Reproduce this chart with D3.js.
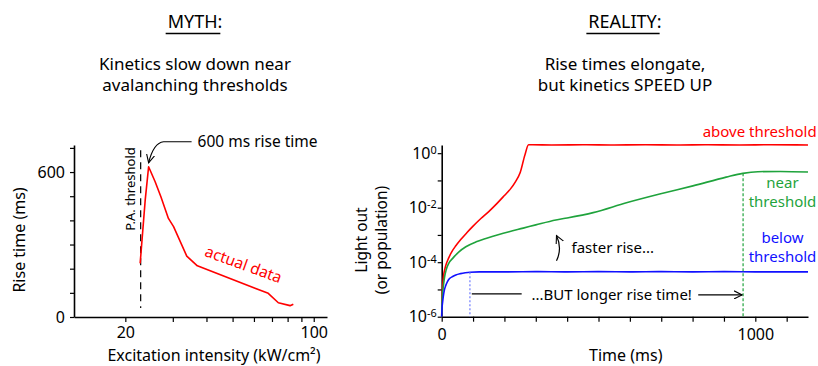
<!DOCTYPE html>
<html>
<head>
<meta charset="utf-8">
<script src="https://cdn.jsdelivr.net/npm/d3@7"></script>
<style>
  body { margin: 0; background: #fff; }
  svg { display: block; font-family: 'Noto Sans', sans-serif; }
</style>
</head>
<body>
<script>
const W = 818
const H = 366

// left panel (myth): rise time vs excitation intensity
const intensity = [22.7, 23.7, 24.4, 25.8, 27.1, 28.9, 30.2, 33.8, 37.0, 67.8, 73.9, 81.7, 84.0]
const riseTime = [222, 484, 622, 560, 498, 408, 374, 252, 212, 98, 59, 47, 53]
const paThreshold = 22.8
const riseTicks = [0, 100, 200, 300, 400, 500, 600, 700]
const riseLabels = [0, 600]
const intensityTicks = [20, 30, 40, 50, 60, 70, 80, 90, 100]
const intensityLabels = [20, 100]

// right panel (reality): light out vs time, three excitation levels
const aboveTime = [0, 1, 3, 6, 10, 15, 22, 32, 45, 60, 80, 100, 125, 150, 175, 200, 220, 235, 250, 265, 277, 290, 350, 450, 550, 650, 750, 850, 950, 1050, 1168]
const aboveLight = [1e-6, 4.0e-6, 1.26e-5, 3.16e-5, 5.6e-5, 8.9e-5, 1.41e-4, 2.4e-4, 4.0e-4, 6.6e-4, 1.2e-3, 2.1e-3, 4.0e-3, 7.2e-3, 1.38e-2, 2.8e-2, 5.0e-2, 8.9e-2, 0.19, 0.83, 2.04, 2.04, 2.0, 2.04, 2.0, 2.04, 2.0, 2.04, 2.0, 2.04, 2.0]
const nearTime = [0, 1, 3, 5, 9, 14, 22, 35, 55, 77, 110, 141, 180, 215, 260, 300, 364, 400, 483, 589, 695, 801, 907, 960, 1008, 1080, 1168]
const nearLight = [1e-6, 3.2e-6, 7.9e-6, 1.26e-5, 2.8e-5, 5.1e-5, 8.9e-5, 1.38e-4, 2.4e-4, 3.7e-4, 5.6e-4, 7.4e-4, 1.02e-3, 1.32e-3, 1.78e-3, 2.34e-3, 3.55e-3, 4.2e-3, 6.6e-3, 1.51e-2, 3.16e-2, 6.3e-2, 0.132, 0.182, 0.209, 0.214, 0.204]
const belowTime = [0, 1, 3, 5, 9, 13, 18, 25, 35, 45, 60, 75, 90, 120, 200, 300, 400, 500, 600, 700, 800, 900, 1000, 1100, 1168]
const belowLight = [1e-6, 2.0e-6, 3.5e-6, 5.4e-6, 1.0e-5, 1.41e-5, 1.9e-5, 2.5e-5, 3.0e-5, 3.4e-5, 3.8e-5, 4.1e-5, 4.3e-5, 4.4e-5, 4.4e-5, 4.5e-5, 4.4e-5, 4.5e-5, 4.4e-5, 4.5e-5, 4.4e-5, 4.5e-5, 4.4e-5, 4.4e-5, 4.4e-5]
const belowRise = { time: 90, light: 4.3e-5 }
const nearRise = { time: 961, light: 0.182 }
const timeTicks = [0, 100, 200, 300, 400, 500, 600, 700, 800, 900, 1000, 1100]
const timeLabels = [0, 1000]
const lightTicks = [1e-6, 1e-5, 1e-4, 1e-3, 1e-2, 1e-1, 1]
const lightLabels = [-6, -4, -2, 0]

const red = '#ff0000'
const green = '#1fa33c'
const blue = '#1010ff'
const font = "'Noto Sans', sans-serif"

const svg = d3.select('body').append('svg')
  .attr('width', W)
  .attr('height', H)

svg.append('defs').append('marker')
  .attr('id', 'arrow')
  .attr('viewBox', '0 -5 10 10')
  .attr('refX', 9)
  .attr('refY', 0)
  .attr('markerWidth', 9)
  .attr('markerHeight', 9)
  .attr('markerUnits', 'userSpaceOnUse')
  .attr('orient', 'auto')
  .append('path')
  .attr('d', 'M0,-4.5L9,0L0,4.5')
  .attr('fill', 'none')
  .attr('stroke', '#000')
  .attr('stroke-width', 1.2)

const styleAxis = g => g
  .attr('font-family', font)
  .attr('font-size', 16)
  .call(g => g.select('.domain').attr('stroke-width', 1.6))
  .call(g => g.selectAll('.tick line').attr('stroke-width', 1.2))
  .call(g => g.selectAll('.tick text').attr('fill', '#000'))

// titles
const titles = [
  { cx: 195, head: 'MYTH:', lines: ['Kinetics slow down near', 'avalanching thresholds'] },
  { cx: 625, head: 'REALITY:', lines: ['Rise times elongate,', 'but kinetics SPEED UP'] }
]
titles.forEach(t => {
  const head = svg.append('text')
    .attr('x', t.cx)
    .attr('y', 28)
    .attr('text-anchor', 'middle')
    .attr('font-size', 18)
    .text(t.head)
  const bb = head.node().getBBox()
  svg.append('line')
    .attr('x1', bb.x - 2)
    .attr('x2', bb.x + bb.width - 2)
    .attr('y1', 33.5)
    .attr('y2', 33.5)
    .attr('stroke', '#000')
    .attr('stroke-width', 1.5)
  t.lines.forEach((l, i) => {
    svg.append('text')
      .attr('x', t.cx)
      .attr('y', 70 + i * 21)
      .attr('text-anchor', 'middle')
      .attr('font-size', 17)
      .text(l)
  })
})

// ---- left panel ----
const xL = d3.scaleLog().domain([12.9, 112]).range([74, 327])
const yL = d3.scaleLinear().domain([0, 712]).range([317, 145])

svg.append('g')
  .attr('transform', `translate(0,${yL(0)})`)
  .call(d3.axisBottom(xL)
    .tickValues(intensityTicks)
    .tickSize(5)
    .tickPadding(5)
    .tickSizeOuter(0)
    .tickFormat(d => intensityLabels.includes(d) ? d : ''))
  .call(styleAxis)

svg.append('g')
  .attr('transform', `translate(${xL.range()[0]},0)`)
  .call(d3.axisLeft(yL)
    .tickValues(riseTicks)
    .tickSize(4)
    .tickPadding(5)
    .tickSizeOuter(0)
    .tickFormat(d => riseLabels.includes(d) ? d : ''))
  .call(styleAxis)

svg.append('line')
  .attr('x1', xL(paThreshold))
  .attr('x2', xL(paThreshold))
  .attr('y1', yL(690))
  .attr('y2', yL(37))
  .attr('stroke', '#000')
  .attr('stroke-width', 1.2)
  .attr('stroke-dasharray', '7,5')

svg.append('text')
  .attr('transform', `translate(${xL(paThreshold) - 6},${yL(530)}) rotate(-90)`)
  .attr('text-anchor', 'middle')
  .attr('font-size', 13)
  .text('P.A. threshold')

svg.append('path')
  .datum(intensity.map((d, i) => [d, riseTime[i]]))
  .attr('fill', 'none')
  .attr('stroke', red)
  .attr('stroke-width', 1.6)
  .attr('stroke-linejoin', 'round')
  .attr('d', d3.line().x(d => xL(d[0])).y(d => yL(d[1])))

const peak = [xL(24.4), yL(622) - 4]
svg.append('path')
  .attr('d', `M${peak[0] + 43},${peak[1] - 21}L${peak[0] + 15},${peak[1] - 21}Q${peak[0] + 5},${peak[1] - 20} ${peak[0]},${peak[1]}`)
  .attr('fill', 'none')
  .attr('stroke', '#000')
  .attr('stroke-width', 1.2)
  .attr('marker-end', 'url(#arrow)')

svg.append('text')
  .attr('x', peak[0] + 49)
  .attr('y', peak[1] - 15.5)
  .attr('font-size', 15.5)
  .text('600 ms rise time')

svg.append('text')
  .attr('transform', `translate(${xL(55)},${yL(220)}) rotate(20)`)
  .attr('text-anchor', 'middle')
  .attr('dominant-baseline', 'central')
  .attr('font-size', 15.5)
  .attr('fill', red)
  .text('actual data')

svg.append('text')
  .attr('transform', 'translate(25,240) rotate(-90)')
  .attr('text-anchor', 'middle')
  .attr('font-size', 16)
  .text('Rise time (ms)')

svg.append('text')
  .attr('x', 214)
  .attr('y', 361)
  .attr('text-anchor', 'middle')
  .attr('font-size', 16)
  .text('Excitation intensity (kW/cm²)')

// ---- right panel ----
const xR = d3.scaleLinear().domain([0, 1168]).range([441.7, 808])
const yR = d3.scaleLog().domain([1e-6, Math.pow(10, 0.3)]).range([316.7, 145])

svg.append('g')
  .attr('transform', `translate(0,${yR(1e-6)})`)
  .call(d3.axisBottom(xR)
    .tickValues(timeTicks)
    .tickSize(5)
    .tickPadding(7)
    .tickSizeOuter(0)
    .tickFormat(d => timeLabels.includes(d) ? d : ''))
  .call(styleAxis)

svg.append('g')
  .attr('transform', `translate(${xR(0)},0)`)
  .call(d3.axisLeft(yR)
    .tickValues(lightTicks)
    .tickSize(4)
    .tickPadding(1)
    .tickSizeOuter(0)
    .tickFormat(() => ''))
  .call(styleAxis)
  .call(g => g.selectAll('.tick text').each(function (d) {
    const e = Math.round(Math.log10(d))
    if (!lightLabels.includes(e)) return
    const t = d3.select(this)
    t.append('tspan').text('10')
    t.append('tspan').attr('dy', '-0.45em').attr('font-size', '0.68em').text(e)
  }))

const series = [
  { time: aboveTime, light: aboveLight, color: red },
  { time: nearTime, light: nearLight, color: green },
  { time: belowTime, light: belowLight, color: blue }
]

const lineR = d3.line()
  .x(d => xR(d[0]))
  .y(d => yR(d[1]))
  .curve(d3.curveMonotoneX)

svg.append('g')
  .selectAll('path')
  .data(series)
  .join('path')
  .attr('fill', 'none')
  .attr('stroke', d => d.color)
  .attr('stroke-width', 1.6)
  .attr('d', d => lineR(d.time.map((t, i) => [t, d.light[i]])))

const riseMarks = [
  { ...belowRise, color: '#6f7cff', dash: '2,2' },
  { ...nearRise, color: green, dash: '3,2' }
]
svg.append('g')
  .selectAll('line')
  .data(riseMarks)
  .join('line')
  .attr('x1', d => xR(d.time))
  .attr('x2', d => xR(d.time))
  .attr('y1', d => yR(d.light))
  .attr('y2', yR(1e-6))
  .attr('stroke', d => d.color)
  .attr('stroke-width', 1.2)
  .attr('stroke-dasharray', d => d.dash)

// series labels
const seriesLabels = [
  { lines: ['above threshold'], color: red, x: 816.7, anchor: 'end', y: 137 },
  { lines: ['near', 'threshold'], color: green, x: 782.5, anchor: 'middle', y: 188 },
  { lines: ['below', 'threshold'], color: blue, x: 782.5, anchor: 'middle', y: 242.5 }
]
seriesLabels.forEach(s => {
  s.lines.forEach((l, i) => {
    svg.append('text')
      .attr('x', s.x)
      .attr('y', s.y + i * 19)
      .attr('text-anchor', s.anchor)
      .attr('font-size', 15)
      .attr('fill', s.color)
      .text(l)
  })
})

// "faster rise..." annotation
const fx = xR(366)
svg.append('path')
  .attr('d', `M${fx},${yR(Math.pow(10, -3.95))}Q${fx + 6},${yR(Math.pow(10, -3.5))} ${fx},${yR(Math.pow(10, -3.02))}`)
  .attr('fill', 'none')
  .attr('stroke', '#000')
  .attr('stroke-width', 1.2)
  .attr('marker-end', 'url(#arrow)')

svg.append('text')
  .attr('x', xR(414))
  .attr('y', yR(Math.pow(10, -3.49)) + 5)
  .attr('font-size', 15)
  .text('faster rise...')

// "...BUT longer rise time!" annotation
const by = yR(Math.pow(10, -5.2))
svg.append('line')
  .attr('x1', xR(96))
  .attr('x2', xR(255))
  .attr('y1', by - 1)
  .attr('y2', by - 1)
  .attr('stroke', '#000')
  .attr('stroke-width', 1.2)

svg.append('path')
  .attr('d', `M${xR(818)},${by}L${xR(958)},${by}`)
  .attr('fill', 'none')
  .attr('stroke', '#000')
  .attr('stroke-width', 1.2)
  .attr('marker-end', 'url(#arrow)')

svg.append('text')
  .attr('x', xR(542))
  .attr('y', by + 5.5)
  .attr('text-anchor', 'middle')
  .attr('font-size', 15)
  .text('...BUT longer rise time!')

svg.append('text')
  .attr('transform', 'translate(367,240) rotate(-90)')
  .attr('text-anchor', 'middle')
  .attr('font-size', 15.5)
  .text('Light out')

svg.append('text')
  .attr('transform', 'translate(387,240) rotate(-90)')
  .attr('text-anchor', 'middle')
  .attr('font-size', 15.5)
  .text('(or population)')

svg.append('text')
  .attr('x', 625.8)
  .attr('y', 360.5)
  .attr('text-anchor', 'middle')
  .attr('font-size', 16)
  .text('Time (ms)')
</script>
</body>
</html>
